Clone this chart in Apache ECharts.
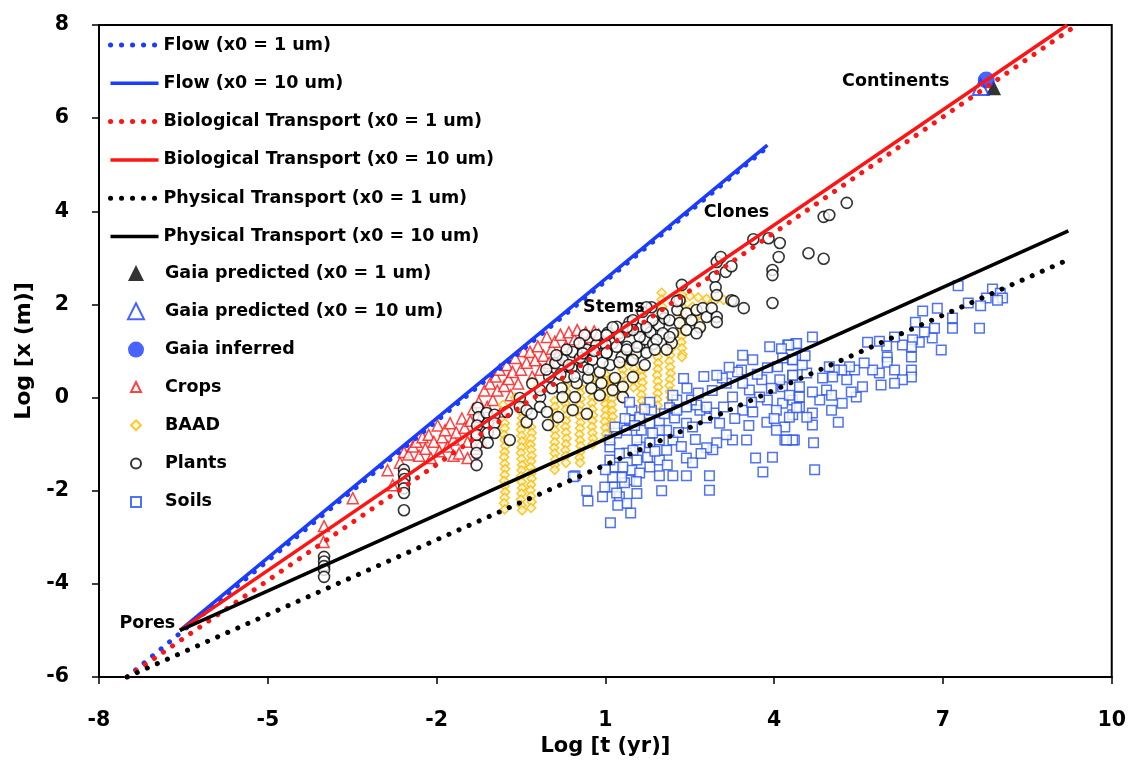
<!DOCTYPE html>
<html><head><meta charset="utf-8">
<script src="https://cdn.jsdelivr.net/npm/echarts@6/dist/echarts.min.js"></script>
<style>html,body{margin:0;padding:0;background:#fff}#c{width:1129px;height:767px}</style>
</head><body><div id="c"></div>
<script>
const FONT = 'DejaVu Sans';
// axis ranges [min, max, interval]
const xRange = [-8, 10, 3];
const yRange = [-6, 8, 2];
const xTitle = 'Log [t (yr)]';
const yTitle = 'Log [x (m)]';

// model lines (log t, log x)
const flow1 = [[-7.5,-6],[3.9,5.4]];
const flow10 = [[-6.56,-5],[3.88,5.42]];
const bio1 = [[-7.5,-6],[9.38,8]];
const bio10 = [[-6.56,-5],[9.21,8]];
const phys1 = [[-7.5,-6],[9.3,3.0]];
const phys10 = [[-6.56,-5],[9.23,3.58]];

const gaiaPred1 = [[7.9,6.65]];
const gaiaPred10 = [[7.67,6.67]];
const gaiaInferred = [[7.77,6.82]];

const crops = [[-4.0,-2.76],[-4.01,-3.1],[-3.49,-2.16],[-2.87,-1.56],[-2.78,-1.88],[-2.65,-1.4],[-2.58,-1.17],[-2.5,-1.22],[-2.42,-1.05],[-2.36,-0.95],[-2.31,-1.25],[-2.25,-0.85],[-2.2,-1.1],[-2.14,-0.8],[-2.1,-1.3],[-2.05,-0.95],[-1.98,-0.6],[-1.95,-1.15],[-1.9,-0.85],[-1.85,-0.7],[-1.8,-1.05],[-1.76,-0.55],[-1.7,-0.9],[-1.7,-1.25],[-1.65,-0.75],[-1.6,-1.2],[-1.55,-0.45],[-1.5,-0.65],[-1.45,-0.95],[-1.45,-1.3],[-1.4,-0.5],[-1.35,-0.25],[-1.3,-0.75],[-1.3,-1.1],[-1.25,-0.1],[-1.2,-0.4],[-1.2,-0.95],[-1.15,0.15],[-1.1,-0.2],[-1.05,0.3],[-1.0,-0.05],[-0.95,0.45],[-0.92,0.15],[-0.88,0.6],[-0.85,-0.3],[-0.8,0.25],[-0.75,0.7],[-0.72,0.4],[-0.68,0.05],[-0.65,0.55],[-0.6,0.85],[-0.55,0.3],[-0.5,0.6],[-0.45,1.0],[-0.4,0.75],[-0.34,0.98],[-0.3,0.45],[-0.25,0.8],[-0.2,1.1],[-0.15,0.6],[-0.1,0.9],[-0.04,1.3],[0.0,0.75],[0.05,1.05],[0.1,1.2],[0.15,0.9],[0.2,1.35],[0.3,1.1],[0.35,1.4],[0.45,1.25],[0.5,1.45],[0.6,1.2],[0.65,1.4],[0.72,1.3],[0.8,1.42],[0.88,1.35]];

const baad = [
[-0.79,-0.55],[-0.79,-0.66],[-0.8,-0.8],[-0.79,-0.91],[-0.78,-1.04],[-0.79,-1.17],[-0.8,-1.28],[-0.79,-1.42],[-0.78,-1.53],[-0.79,-1.66],[-0.8,-1.79],[-0.79,-1.9],[-0.78,-2.03],[-0.79,-2.15],[-0.8,-2.27],[-0.79,-2.4],
[-0.49,-0.07],[-0.5,-0.2],[-0.49,-0.31],[-0.48,-0.44],[-0.49,-0.57],[-0.5,-0.69],[-0.49,-0.82],[-0.48,-0.94],[-0.49,-1.07],[-0.5,-1.19],[-0.49,-1.32],[-0.48,-1.45],[-0.49,-1.56],[-0.5,-1.69],[-0.49,-1.81],[-0.48,-1.94],[-0.49,-2.06],[-0.5,-2.19],[-0.49,-2.31],[-0.48,-2.42],
[-0.32,-0.63],[-0.31,-0.76],[-0.32,-0.88],[-0.33,-1.01],[-0.32,-1.12],[-0.31,-1.25],[-0.32,-1.37],[-0.33,-1.5],[-0.32,-1.63],[-0.31,-1.74],[-0.32,-1.87],[-0.33,-1.99],[-0.32,-2.12],[-0.31,-2.24],[-0.32,-2.37],
[-0.82,-0.16],[-0.31,0.33],[-0.6,0.0],[-0.2,0.2],
[0.1,-0.07],[0.1,-0.2],[0.11,-0.33],[0.1,-0.45],[0.09,-0.58],[0.1,-0.7],[0.11,-0.83],[0.1,-0.96],[0.09,-1.08],[0.1,-1.2],[0.11,-1.33],[0.1,-1.45],[0.1,-1.55],
[0.3,0.37],[0.3,0.25],[0.31,0.12],[0.3,0.0],[0.29,-0.13],[0.3,-0.25],[0.31,-0.38],[0.3,-0.5],[0.29,-0.63],[0.3,-0.75],[0.31,-0.88],[0.3,-1.0],[0.29,-1.13],[0.3,-1.25],[0.3,-1.4],
[0.55,0.23],[0.55,0.1],[0.56,-0.03],[0.55,-0.16],[0.54,-0.28],[0.55,-0.41],[0.56,-0.54],[0.55,-0.66],[0.54,-0.79],[0.55,-0.92],[0.56,-1.04],[0.55,-1.17],[0.54,-1.29],[0.55,-1.4],
[0.77,0.4],[0.77,0.27],[0.78,0.14],[0.77,0.01],[0.76,-0.12],[0.77,-0.25],[0.78,-0.38],[0.77,-0.5],[0.76,-0.63],[0.77,-0.76],[0.78,-0.88],[0.77,-1.0],
[1.0,0.5],[1.0,0.37],[1.01,0.25],[1.0,0.12],[0.99,-0.01],[1.0,-0.14],[1.01,-0.27],[1.0,-0.4],[0.99,-0.52],[1.0,-0.65],[1.01,-0.78],[1.0,-0.9],
[1.12,0.37],[1.12,0.24],[1.13,0.11],[1.12,-0.02],[1.11,-0.15],[1.12,-0.28],[1.13,-0.41],[1.12,-0.54],[1.12,-0.7],
[1.3,0.85],[1.3,0.72],[1.31,0.6],[1.3,0.47],[1.29,0.34],[1.3,0.21],[1.31,0.09],[1.3,0.0],
[1.5,0.9],[1.5,0.76],[1.51,0.62],[1.5,0.5],[1.49,0.36],[1.5,0.22],
[1.65,0.58],[1.65,0.45],[1.66,0.32],[1.65,0.19],[1.64,0.06],[1.65,-0.07],[1.66,-0.2],[1.65,-0.33],[1.64,-0.45],[1.65,-0.55],
[1.93,1.0],[1.93,0.87],[1.94,0.74],[1.93,0.61],[1.92,0.48],[1.93,0.35],[1.94,0.22],[1.93,0.09],[1.92,-0.04],[1.93,-0.17],[1.93,-0.33],
[2.15,1.3],[2.15,1.17],[2.16,1.04],[2.15,0.91],[2.14,0.78],[2.15,0.65],[2.16,0.52],[2.15,0.39],[2.14,0.26],[2.15,0.13],[2.16,0.0],[2.15,-0.13],[2.15,-0.33],
[2.36,2.2],[2.36,2.07],[2.37,1.94],[2.36,1.81],[2.35,1.68],[2.36,1.55],[2.37,1.45],[2.36,1.32],[2.35,1.19],[2.36,1.06],[2.37,0.93],[2.36,0.87],
[2.0,2.25],[2.0,2.1],[2.01,1.95],[2.0,1.8],
[2.5,2.18],[2.65,2.15],[2.8,2.12],[2.95,2.08],[3.1,2.1],[3.25,2.05],[2.55,1.95],[2.6,1.7],[2.7,1.5]];

const plants = [
[-4.0,-3.42],[-4.0,-3.52],[-4.0,-3.62],[-4.0,-3.7],[-4.0,-3.85],
[-2.58,-1.55],[-2.58,-1.65],[-2.57,-1.75],[-2.58,-1.85],[-2.58,-1.95],[-2.58,-2.05],[-2.58,-2.42],
[-1.27,-0.22],[-1.25,-0.42],[-1.29,-1.02],[-1.29,-1.19],[-1.29,-1.45],[-1.28,-0.6],[-1.29,-0.8],
[-1.11,-0.33],[-1.09,-0.55],[-1.09,-0.76],[-1.09,-0.97],[-0.97,-0.37],[-0.97,-0.55],[-0.97,-0.76],[-0.75,-0.31],[-0.7,-0.91],[-0.52,-0.01],[-0.52,-0.2],[-0.4,-0.27],[-0.4,-0.53],[-0.31,-0.35],[-0.16,0.01],[-0.16,-0.2],[-0.04,-0.31],[-0.02,-0.59],[0.16,-0.42],[-0.16,0.16],[0.11,0.74],[0.24,0.81],[0.22,0.2],[0.24,0.01],[0.31,0.44],[0.4,0.64],[0.42,0.98],[0.46,0.01],[0.49,0.31],[0.6,0.66],[0.67,1.03],[0.69,0.42],[0.77,0.81],[0.84,1.13],[0.9,0.55],[0.93,0.31],[1.02,0.96],[1.08,0.7],[1.13,1.17],[1.17,0.42],[1.25,1.39],[1.29,0.87],[1.38,1.09],[1.47,0.81],[1.49,0.44],[1.13,0.16],[1.31,0.23],[1.56,1.49],[1.43,1.62],[0.63,1.34],[0.54,1.17],[0.31,1.03],[0.13,0.91],[0.84,1.34],[1.04,1.39],[1.2,1.52],[1.38,1.42],[0.67,-0.35],[0.42,-0.27],[0.9,0.05],[1.31,0.01],
[-0.3,0.3],[0.0,0.45],[0.05,0.2],[0.35,0.7],[0.55,0.85],[0.7,0.6],[0.95,0.75],[0.2,0.5],[-0.05,0.6],[0.8,1.0],[1.0,1.15],[0.6,0.95],[0.45,0.45],[0.75,0.2],[1.6,1.1],[1.7,1.25],[1.8,1.4],[1.95,1.55],[2.05,1.7],[1.85,1.15],[1.55,0.95],[1.7,0.7],
[1.82,1.94],[1.66,1.84],[1.49,1.66],[1.84,1.66],[2.02,1.81],[2.14,1.66],[2.28,1.88],[2.44,1.81],[2.32,1.6],[2.53,1.66],[2.62,1.88],[2.73,1.92],[2.8,1.73],[2.89,1.92],[2.68,1.51],[2.44,1.45],[2.2,1.38],[2.18,1.17],[2.02,1.38],[1.91,1.24],[1.73,1.51],[1.61,1.3],[1.49,1.45],[1.38,1.51],[1.25,1.3],[1.13,1.51],[1.02,1.34],[1.2,1.09],[1.38,1.03],[1.56,1.09],[1.73,0.96],[1.88,1.03],[1.49,0.81],[1.25,0.76],[1.02,0.96],[2.14,1.3],[2.09,1.03],[2.62,1.38],[2.98,1.73],[3.24,2.09],[2.32,2.09],[1.73,1.94],
[2.36,2.42],[2.27,2.07],[2.98,2.91],[3.05,3.02],[2.94,2.59],[2.96,2.37],[2.98,2.2],[2.98,1.62],[3.14,2.7],[3.24,2.82],[3.28,2.07],[3.46,1.92],[3.63,3.4],[3.9,3.42],[4.1,3.32],[4.08,3.02],[3.97,2.74],[3.97,2.63],[3.97,2.03],[4.61,3.1],[4.88,2.98],[4.88,3.88],[4.98,3.92],[5.29,4.18]];

const soils = [
[7.27,2.4],[7.88,2.33],[8.02,2.24],[8.06,2.14],[7.97,2.09],[7.77,2.14],[7.67,1.97],[7.45,2.03],[7.65,1.49],[7.17,1.71],[7.17,1.49],[6.9,1.92],[6.64,1.86],[6.85,1.49],[6.81,1.28],[6.97,1.02],[6.51,1.62],[6.67,1.41],[6.58,1.19],[6.46,1.24],[6.44,1.09],[6.44,0.87],[6.44,0.59],[6.44,0.44],[6.28,1.13],[6.14,1.3],[6.0,1.11],[5.87,1.21],[5.66,1.19],[6.01,0.87],[6.01,0.76],[6.14,0.59],[6.28,0.38],[6.14,0.31],[5.9,0.27],[5.87,0.53],[5.75,0.59],[5.6,0.74],[5.43,0.59],[5.34,0.66],[5.29,0.38],[5.2,0.59],[5.07,0.59],[4.98,0.66],[5.04,0.44],[4.86,0.42],[4.93,0.16],[5.02,0.05],[5.21,-0.12],[5.46,0.01],[5.57,0.23],[5.37,0.12],[5.14,-0.53],[5.02,-0.27],[4.81,-0.05],[4.68,0.12],[4.68,-0.33],[4.68,-0.59],[4.7,-0.97],[4.58,0.53],[4.45,0.23],[4.33,0.48],[4.33,-0.05],[4.33,-0.37],[4.36,-0.91],[4.19,-0.91],[4.19,-0.63],[4.15,-0.12],[4.15,0.23],[4.33,0.81],[4.68,1.3],[4.38,1.15],[4.24,1.13],[4.58,-0.42],[4.45,-0.2],[4.72,-1.55],
[4.4,1.16],[4.26,1.13],[4.13,1.05],[3.92,1.09],[4.33,0.81],[4.33,0.48],[4.06,0.66],[3.88,0.64],[3.62,0.81],[3.44,0.91],[3.42,0.59],[3.78,0.38],[4.1,0.38],[4.27,0.05],[4.45,0.01],[4.4,-0.22],[4.27,-0.42],[4.04,-0.27],[3.88,-0.05],[3.74,0.01],[3.56,0.16],[3.44,0.31],[3.26,0.01],[3.15,0.31],[3.08,0.42],[2.98,0.48],[2.75,0.45],[2.39,0.41],[3.44,-0.27],[3.62,-0.31],[3.87,-0.53],[4.04,-0.7],[4.33,-0.91],[4.22,-0.91],[3.97,-1.28],[3.8,-1.6],[3.67,-1.3],[3.51,-0.91],[3.26,-0.91],[3.15,-0.8],[3.03,-0.55],[2.94,-0.33],[2.8,-0.44],[2.68,-0.27],[2.62,-0.16],[2.8,-0.2],[2.53,-0.05],[2.44,-0.2],[2.27,-0.05],[2.14,-0.22],[2.23,-0.44],[2.44,-0.55],[2.55,-0.63],[2.98,-0.97],[2.91,-1.12],[2.8,-1.08],[2.44,-1.3],[2.55,-1.4],[2.85,-1.68],[2.85,-1.99],[2.44,-1.68],[2.2,-1.68],[1.96,-1.68],[1.79,-1.49],[1.75,-1.28],[1.96,-1.34],[2.09,-1.13],[2.2,-0.91],[1.96,-0.91],[1.79,-0.97],[1.61,-1.06],[1.56,-1.34],[1.47,-1.56],[1.61,-1.62],[1.43,-1.77],[1.34,-1.83],[1.29,-1.71],[1.13,-1.92],[0.99,-1.92],[1.13,-1.71],[1.17,-1.49],[1.08,-1.34],[1.08,-1.06],[1.2,-0.76],[1.17,-0.63],[1.38,-0.7],[1.43,-0.48],[1.47,-0.27],[1.43,-0.1],[1.61,-0.42],[1.64,-0.7],[1.79,-0.55],[1.82,-0.27],[1.79,-0.1],[1.96,-0.53],[2.09,-0.7],[1.96,-0.7],[2.27,-0.27],[1.56,-2.06],[1.45,-2.48],[1.09,-2.69],[0.69,-2.22],[0.46,-1.68],[0.95,-2.13],[1.25,-2.13],[1.38,-2.27],[1.22,-2.31],[1.31,-1.49],[1.38,-1.19],[1.56,-0.91],[1.84,-0.76],[1.08,-0.91],[1.49,-1.13],[2.0,-2.0],[0.67,-2.0],[0.43,-1.7],
[1.25,-1.2],[1.35,-0.45],[1.52,-0.6],[1.7,-0.25],[1.88,-1.15],[2.05,-0.35],[2.3,-0.75],[2.35,-1.05],[2.6,-0.9],[2.7,-1.2],[2.65,0.1],[2.9,0.15],[3.1,-0.2],[3.3,-0.45],[3.35,0.55],[3.55,-0.6],[3.7,0.5],[3.95,0.2],[4.0,-0.45],[4.15,0.85],[4.5,0.7],[4.55,0.9],[1.0,-1.55],[1.2,-2.05],[1.55,-1.8],[2.1,-1.45],[3.2,0.65],[2.45,0.2],[2.2,0.05],[3.6,-0.1]];

const annotations = [['Pores',-7.14,-4.84],['Stems',1.15,1.94],['Clones',3.33,3.98],['Continents',6.16,6.78]];

const BLUE = '#1a3cff', RED = '#ff1414', BLACK = '#000', GOLD = '#fcbc00', SQ = '#2450f0';
const DOT = [0.1, 10.9];
const txt = {fontFamily: FONT, fontWeight: 'bold', fontSize: 17.5, color: '#000'};

function lineSeries(name, data, color, dotted) {
  return {name, type: 'line', data, symbol: 'none', silent: true,
    itemStyle: {color},
    lineStyle: dotted ? {color, width: 5, type: DOT, cap: 'round'} : {color, width: 3.5}};
}
function scat(name, data, symbol, size, fill, stroke, bw) {
  return {name, type: 'scatter', data, symbol, symbolSize: size, silent: true,
    itemStyle: {color: fill, borderColor: stroke, borderWidth: bw}};
}
const legendBase = {orient: 'vertical', itemGap: 20.3, selectedMode: false, padding: 0};

const option = {
  animation: false,
  backgroundColor: '#fff',
  grid: {left: 99, right: 17, top: 25, bottom: 90, show: true, borderColor: '#000', borderWidth: 2, backgroundColor: 'transparent'},
  xAxis: {type: 'value', min: xRange[0], max: xRange[1], interval: xRange[2],
    axisLine: {onZero: false, lineStyle: {color: '#000', width: 2}}, axisTick: {length: 7, lineStyle: {color: '#000', width: 1.5}},
    splitLine: {show: false},
    axisLabel: {margin: 33, fontFamily: FONT, fontWeight: 'bold', fontSize: 20.5, color: '#000'},
    name: xTitle, nameLocation: 'middle', nameGap: 55, nameTextStyle: {fontFamily: FONT, fontWeight: 'bold', fontSize: 21, color: '#000'}},
  yAxis: {type: 'value', min: yRange[0], max: yRange[1], interval: yRange[2],
    axisLine: {onZero: false, lineStyle: {color: '#000', width: 2}}, axisTick: {length: 7, lineStyle: {color: '#000', width: 1.5}},
    splitLine: {show: false},
    axisLabel: {margin: 30, fontFamily: FONT, fontWeight: 'bold', fontSize: 20.5, color: '#000'},
    name: yTitle, nameLocation: 'middle', nameGap: 58, nameTextStyle: {fontFamily: FONT, fontWeight: 'bold', fontSize: 22, color: '#000'}},
  legend: [
    Object.assign({}, legendBase, {left: 108, top: 36, itemWidth: 48, itemHeight: 14, textStyle: txt,
      itemStyle: {opacity: 0}, lineStyle: {width: 'inherit'},
      data: ['Flow (x0 = 1 um)','Flow (x0 = 10 um)','Biological Transport (x0 = 1 um)','Biological Transport (x0 = 10 um)','Physical Transport (x0 = 1 um)','Physical Transport (x0 = 10 um)']}),
    Object.assign({}, legendBase, {left: 127, top: 264, itemWidth: 16, itemHeight: 16,
      textStyle: Object.assign({}, txt, {padding: [0, 0, 0, 16]}),
      data: ['Gaia predicted (x0 = 1 um)','Gaia predicted (x0 = 10 um)','Gaia inferred']}),
    Object.assign({}, legendBase, {left: 130, top: 378, itemWidth: 10, itemHeight: 10,
      textStyle: Object.assign({}, txt, {padding: [0, 0, 0, 19]}),
      data: ['Crops','BAAD','Plants','Soils']})
  ],
  series: [
    lineSeries('Flow (x0 = 1 um)', flow1, BLUE, true),
    lineSeries('Biological Transport (x0 = 1 um)', bio1, RED, true),
    lineSeries('Physical Transport (x0 = 1 um)', phys1, BLACK, true),
    lineSeries('Flow (x0 = 10 um)', flow10, BLUE, false),
    lineSeries('Biological Transport (x0 = 10 um)', bio10, RED, false),
    lineSeries('Physical Transport (x0 = 10 um)', phys10, BLACK, false),
    scat('Crops', crops, 'triangle', 11, '#fff', RED, 1.5),
    scat('BAAD', baad, 'diamond', 9, '#fff6d8', GOLD, 1.6),
    scat('Plants', plants, 'circle', 11, '#fff', BLACK, 1.6),
    scat('Soils', soils, 'rect', 9.5, '#fff', SQ, 1.5),
    scat('Gaia predicted (x0 = 1 um)', gaiaPred1, 'triangle', 15, '#000', '#000', 0),
    scat('Gaia predicted (x0 = 10 um)', gaiaPred10, 'triangle', 16, 'rgba(255,255,255,0)', BLUE, 2),
    scat('Gaia inferred', gaiaInferred, 'circle', 17, BLUE, BLUE, 0),
    {type: 'scatter', silent: true, symbolSize: 1, itemStyle: {color: 'rgba(0,0,0,0)'},
      data: annotations.map(a => ({name: a[0], value: [a[1], a[2]]})),
      label: {show: true, position: 'inside', formatter: '{b}', fontFamily: FONT, fontWeight: 'bold', fontSize: 17.5, color: '#000', opacity: 1}}
  ]
};
const chart = echarts.init(document.getElementById('c'), null, {renderer: 'canvas'});
chart.setOption(option);
</script></body></html>
